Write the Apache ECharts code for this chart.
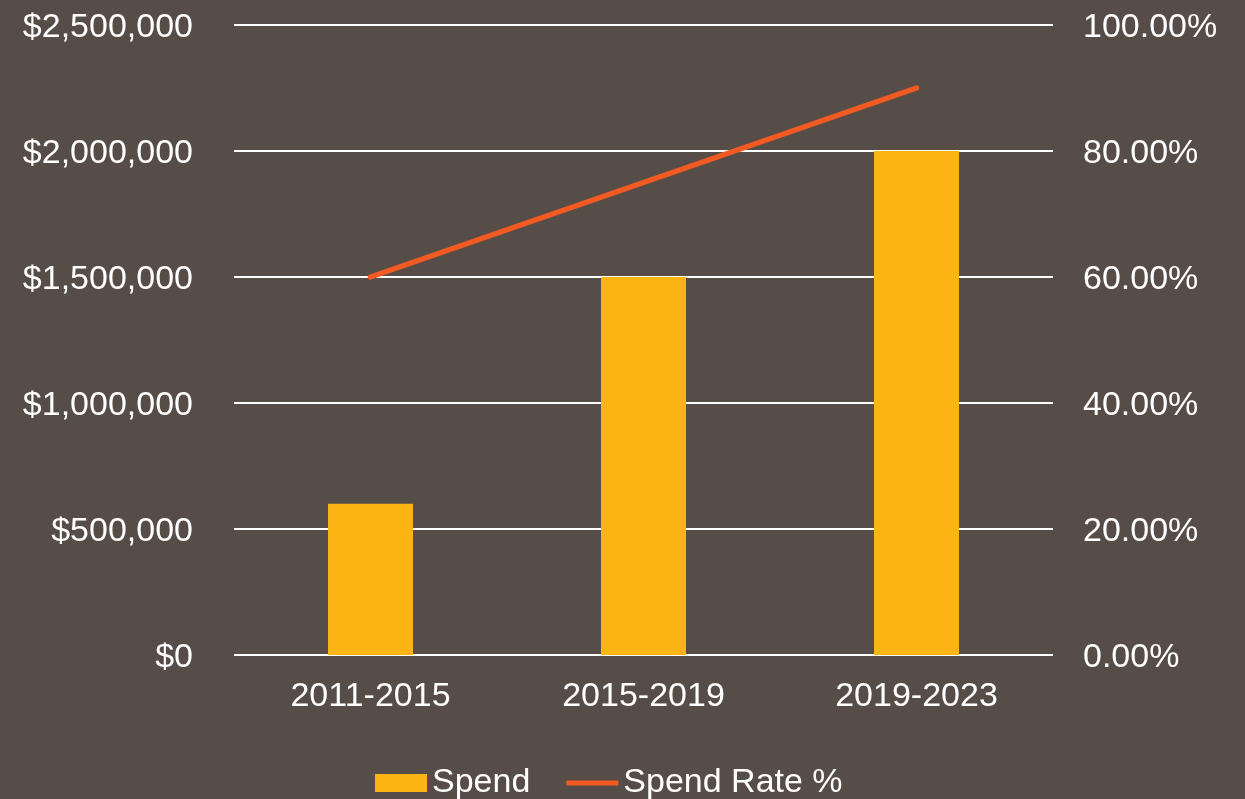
<!DOCTYPE html>
<html>
<head>
<meta charset="utf-8">
<script src="https://cdn.jsdelivr.net/npm/echarts@6/dist/echarts.min.js"></script>
<style>
  html, body { margin: 0; padding: 0; background: #564c48; }
  #chart { width: 1245px; height: 799px; }
</style>
</head>
<body>
<div id="chart"></div>
<script>
const periods = ['2011-2015', '2015-2019', '2019-2023'];
const spend = [600000, 1500000, 2000000];
const spendRate = [0.60, 0.75, 0.90];

const font = 'Liberation Sans, Arial, sans-serif';
const textColor = '#ffffff';
const fontSize = 34;

// rich style nudges the tick labels a little lower so they sit centred on the grid lines
const tickRich = { v: { color: textColor, fontSize: fontSize, fontFamily: font, padding: [5, 0, 0, 0] } };

function money(v) {
    return '{v|$' + v.toLocaleString('en-US') + '}';
}

function percent(v) {
    return '{v|' + (v * 100).toFixed(2) + '%}';
}

const chart = echarts.init(document.getElementById('chart'));
chart.setOption({
    backgroundColor: '#564c48',
    animation: false,
    textStyle: { fontFamily: font },
    grid: { left: 234, right: 192, top: 25, bottom: 144 },
    legend: {
        bottom: -6,
        left: 370,
        padding: 5,
        itemGap: 36,
        itemWidth: 52,
        itemHeight: 18,
        textStyle: { color: textColor, fontSize: fontSize, fontFamily: font },
        data: [
            { name: 'Spend', icon: 'rect' },
            { name: 'Spend Rate %', icon: 'path://M0,0 L10,0 L10,1 L0,1 Z', itemStyle: { color: '#f15a22' } }
        ]
    },
    xAxis: {
        type: 'category',
        data: periods,
        axisLine: { show: false },
        axisTick: { show: false },
        axisLabel: { color: textColor, fontSize: fontSize, margin: 25, fontFamily: font }
    },
    yAxis: [
        {
            type: 'value',
            min: 0,
            max: 2500000,
            interval: 500000,
            axisLine: { show: false },
            axisTick: { show: false },
            axisLabel: { margin: 41, formatter: money, rich: tickRich },
            splitLine: { lineStyle: { color: '#ffffff', width: 2 } }
        },
        {
            type: 'value',
            min: 0,
            max: 1,
            interval: 0.2,
            axisLine: { show: false },
            axisTick: { show: false },
            axisLabel: { margin: 30, formatter: percent, rich: tickRich },
            splitLine: { show: false }
        }
    ],
    series: [
        {
            name: 'Spend',
            type: 'bar',
            data: spend,
            barWidth: 85,
            itemStyle: { color: '#fdb515' }
        },
        {
            name: 'Spend Rate %',
            type: 'line',
            yAxisIndex: 1,
            data: spendRate,
            symbol: 'none',
            lineStyle: { color: '#f15a22', width: 5.5, cap: 'round' },
            itemStyle: { color: '#f15a22' }
        }
    ]
});
</script>
</body>
</html>
